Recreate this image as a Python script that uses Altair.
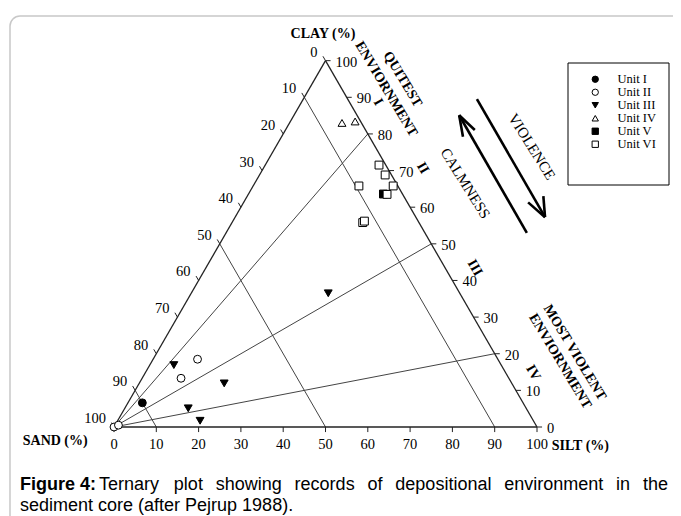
import math
import altair as alt
import pandas as pd

S3 = math.sqrt(3) / 2

# ---------------- data: ternary percentages ----------------
units = ["Unit I", "Unit II", "Unit III", "Unit IV", "Unit V", "Unit VI"]
unit_shapes = ["circle", "circle", "triangle-down", "triangle-up", "square", "square"]
unit_fills = ["black", "white", "black", "white", "black", "white"]

u1_silt = [3.4]
u1_clay = [6.6]
u2_silt = [10.5, 9.2, 0.0, 0.8]
u2_clay = [18.5, 13.3, 0.0, 0.5]
u3_silt = [5.7, 20.1, 15.0, 19.5, 32.4]
u3_clay = [16.9, 11.9, 5.1, 1.7, 36.5]
u4_silt = [12.4, 15.3]
u4_clay = [83.0, 83.4]
u5_silt = [31.9]
u5_clay = [63.6]
u6_silt = [26.9, 29.7, 33.1, 25.0, 32.8, 30.9, 31.1]
u6_clay = [71.5, 68.8, 65.8, 65.8, 63.5, 55.8, 56.2]

tick_values = [0, 10, 20, 30, 40, 50, 60, 70, 80, 90, 100]
ratio_lines_clay = [80, 50, 20]      # lines from the sand corner
sand_lines = [10, 50, 90]            # lines of constant sand

caption_bold = "Figure 4:"
caption_rest = "Ternary plot showing records of depositional environment in the"
caption_line2 = "sediment core (after Pejrup 1988)."

# ---------------- geometry ----------------
K = 4.23                 # px per percent
OX, OY = 106, 419        # sand corner in plot px
W, H = 665, 508
XDOM = [-OX / K, (W - OX) / K]
YDOM = [(OY - H) / K, OY / K]

def cart(silt, clay):
    return silt + clay / 2.0, clay * S3

X = lambda f="x": alt.X(f"{f}:Q", scale=alt.Scale(domain=XDOM, nice=False, zero=False), axis=None)
Y = lambda f="y": alt.Y(f"{f}:Q", scale=alt.Scale(domain=YDOM, nice=False, zero=False), axis=None)

# points
rows = []
for u, sl, cl in [("Unit I", u1_silt, u1_clay), ("Unit II", u2_silt, u2_clay),
                  ("Unit III", u3_silt, u3_clay), ("Unit IV", u4_silt, u4_clay),
                  ("Unit V", u5_silt, u5_clay), ("Unit VI", u6_silt, u6_clay)]:
    for s, c in zip(sl, cl):
        x, y = cart(s, c)
        rows.append({"unit": u, "x": x, "y": y, "order": len(rows)})
pts = pd.DataFrame(rows)

# segments
def seg(a, b):
    return {"x": a[0], "y": a[1], "x2": b[0], "y2": b[1]}

A_sand, A_silt, A_clay = cart(0, 0), cart(100, 0), cart(0, 100)
edges = pd.DataFrame([seg(A_sand, A_silt), seg(A_silt, A_clay), seg(A_clay, A_sand)])
inner = []
for c in ratio_lines_clay:
    inner.append(seg(A_sand, cart(100 - c, c)))
for s in sand_lines:
    inner.append(seg(cart(0, 100 - s), cart(100 - s, 0)))
inner = pd.DataFrame(inner)

TL = 1.2
ticks = []
for v in tick_values:
    bx, by = cart(v, 0)
    ticks.append(seg((bx, by), (bx, by - TL)))
    rx, ry = cart(100 - v, v)
    ticks.append(seg((rx, ry), (rx + TL, ry)))
    lx, ly = cart(0, 100 - v)
    ticks.append(seg((lx, ly), (lx - TL * 0.5, ly + TL * S3)))
ticks = pd.DataFrame(ticks)

bottom_lab = pd.DataFrame([{"x": cart(v, 0)[0], "y": 0, "t": str(v)} for v in tick_values])
right_lab = pd.DataFrame([{"x": cart(100 - v, v)[0], "y": cart(100 - v, v)[1], "t": str(v)} for v in tick_values])
left_lab = pd.DataFrame([{"x": cart(0, 100 - v)[0], "y": cart(0, 100 - v)[1], "t": str(v)} for v in tick_values])

SERIF = "Liberation Serif"
SANS = "Liberation Sans"

def rules(df, width, color="#333333"):
    return alt.Chart(df).mark_rule(strokeWidth=width, color=color).encode(
        x=X(), y=Y(), x2="x2:Q", y2="y2:Q")

def labels(df, **kw):
    return alt.Chart(df).mark_text(font=SERIF, fontSize=14.5, color="black", **kw).encode(
        x=X(), y=Y(), text="t:N")

def note(text, x, y, **kw):
    df = pd.DataFrame([{"x": x, "y": y}])
    return alt.Chart(df).mark_text(text=text, font=SERIF, color="black", **kw).encode(x=X(), y=Y())

notes = [
    note("CLAY (%)", 49.4, 92.9, fontSize=14, fontWeight="bold"),
    note("SAND (%)", -13.9, -3.3, fontSize=14, fontWeight="bold"),
    note("SILT (%)", 103.5, -4.4, fontSize=14, fontWeight="bold", align="left"),
    note("I", 62.4, 76.8, fontSize=14, fontWeight="bold", angle=60),
    note("II", 73.0, 61.2, fontSize=14, fontWeight="bold", angle=60),
    note("III", 85.3, 37.6, fontSize=14, fontWeight="bold", angle=60),
    note("IV", 99.1, 12.8, fontSize=14, fontWeight="bold", angle=60),
    note(["QUITEST", "ENVIORNMENT"], 68.2, 82.2, fontSize=14, fontWeight="bold", angle=59, lineHeight=19),
    note(["MOST VIOLENT", "ENVIORNMENT"], 108.9, 17.6, fontSize=14, fontWeight="bold", angle=59, lineHeight=17),
    note("CALMNESS", 83.1, 57.6, fontSize=15, angle=58),
    note("VIOLENCE", 98.8, 66.3, fontSize=15, angle=58),
]

arrows = pd.DataFrame([
    seg((97.6, 45.9), (81.6, 73.7)), seg((81.6, 73.7), (82.5, 68.6)), seg((81.6, 73.7), (85.3, 70.2)),
    seg((85.8, 77.5), (101.9, 49.6)), seg((101.9, 49.6), (97.9, 53.1)), seg((101.9, 49.6), (101.5, 54.6)),
])

one = pd.DataFrame([{"a": 1}])
frame = alt.Chart(one).mark_rect(
    fill=None, stroke="#c8c8c8", strokeWidth=1.5, cornerRadius=10).encode(
    x=alt.value(2), x2=alt.value(720), y=alt.value(8), y2=alt.value(540))

legend_box = alt.Chart(one).mark_rect(
    fill="white", stroke="black", strokeWidth=1).encode(
    x=alt.value(560), x2=alt.value(661), y=alt.value(55), y2=alt.value(177))

leg = alt.Legend(title=None, orient="none", legendX=581, legendY=65, padding=0,
                 labelFont=SERIF, labelFontSize=12.5, labelColor="black", labelOffset=16,
                 symbolSize=40, symbolStrokeColor="black", symbolStrokeWidth=1,
                 symbolOpacity=1, rowPadding=0, clipHeight=12.5)

points = alt.Chart(pts).mark_point(filled=False, strokeWidth=1, opacity=1, size=62).encode(
    x=X(), y=Y(),
    shape=alt.Shape("unit:N", scale=alt.Scale(domain=units, range=unit_shapes), legend=leg),
    fill=alt.Fill("unit:N", scale=alt.Scale(domain=units, range=unit_fills), legend=leg),
    stroke=alt.Stroke("unit:N", scale=alt.Scale(domain=units, range=["black"] * 6), legend=leg),
    order="order:Q",
)

# caption: first line justified between x=91 and x=660 (plot px)
ARIAL = {"a": 556, "b": 556, "c": 500, "d": 556, "e": 556, "f": 278, "g": 556, "h": 556, "i": 222,
         "j": 222, "k": 500, "l": 222, "m": 833, "n": 556, "o": 556, "p": 556, "q": 556, "r": 333,
         "s": 500, "t": 278, "u": 556, "v": 500, "w": 722, "x": 500, "y": 500, "z": 500, "T": 611}
CFS = 18
words = caption_rest.split(" ")
wwidths = [sum(ARIAL.get(ch, 556) for ch in w) * CFS / 1000 for w in words]
L0, L1 = 91, 660
gap = (L1 - L0 - sum(wwidths)) / (len(words) - 1)
wx, cur = [], L0
for wd in wwidths:
    wx.append(cur)
    cur += wd + gap
cap_words = pd.DataFrame({"t": words, "px": wx})

cap1 = alt.Chart(one).mark_text(
    text=caption_bold, font=SANS, fontSize=CFS, fontWeight="bold", align="left", baseline="middle", color="black"
).encode(x=alt.value(12), y=alt.value(477))
cap2 = alt.Chart(cap_words).mark_text(
    font=SANS, fontSize=CFS, align="left", baseline="middle", color="black"
).encode(x=alt.X("px:Q", scale=None, axis=None), y=alt.value(477), text="t:N")
cap3 = alt.Chart(one).mark_text(
    text=caption_line2, font=SANS, fontSize=CFS, align="left", baseline="middle", color="black"
).encode(x=alt.value(12), y=alt.value(498))

chart = alt.layer(
    frame,
    legend_box,
    rules(inner, 1.0, "#444444"),
    rules(edges, 1.3, "#222222"),
    rules(ticks, 1.0, "#222222"),
    rules(arrows, 2.6, "black"),
    labels(bottom_lab, align="center", baseline="middle", dy=18),
    labels(right_lab, align="left", baseline="middle", dx=10, dy=2),
    labels(left_lab, align="right", baseline="middle", dx=-8, dy=-8),
    *notes,
    points,
    cap1, cap2, cap3,
).resolve_scale(x="independent").properties(width=W, height=H, padding=0, autosize="none").configure_view(stroke=None)

chart.save("out.html", embed_options={"renderer": "svg", "actions": False})
